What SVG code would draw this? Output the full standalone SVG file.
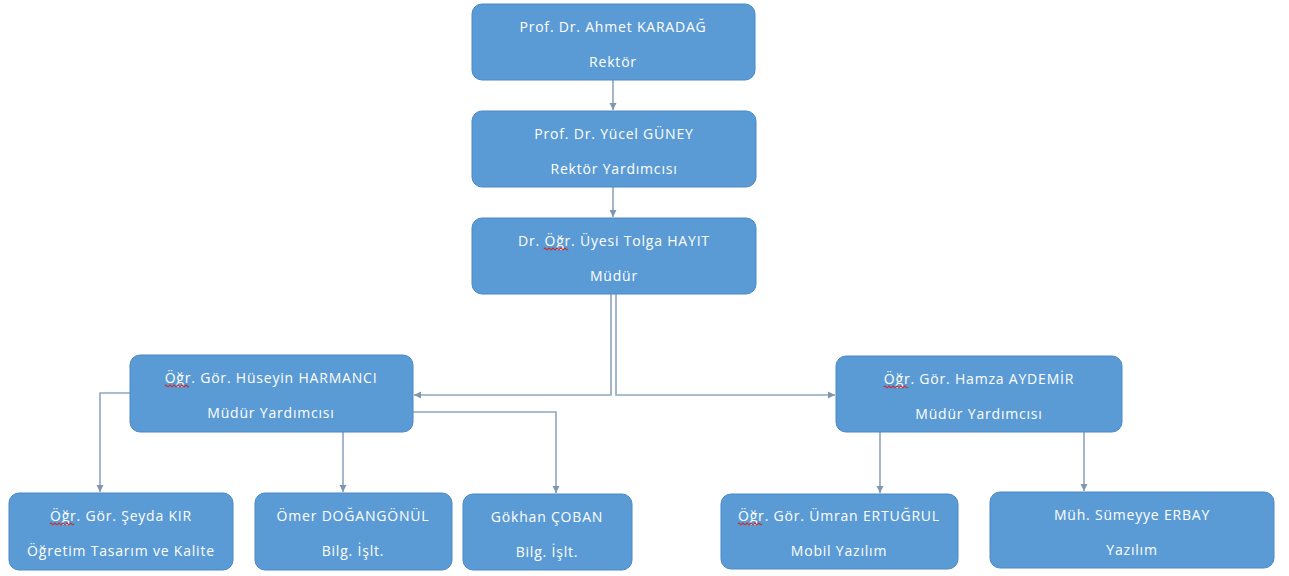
<svg xmlns="http://www.w3.org/2000/svg" width="1289" height="576" viewBox="0 0 1289 576">
<defs>
<style>
.box{fill:#5b9bd5;stroke:#4a88c6;stroke-width:1}
.t{font-family:"Open Sans","Liberation Sans",sans-serif;font-size:14px;fill:#ffffff;text-anchor:middle;letter-spacing:0.8px}
.sq{fill:none;stroke:#c8302f;stroke-width:1.2}
.c{fill:none;stroke:#8ea6bd;stroke-width:1.6}
</style>
<marker id="ah" markerWidth="8" markerHeight="8" refX="7" refY="4" orient="auto" markerUnits="userSpaceOnUse">
<path d="M0,0.5 L7,4 L0,7.5 Z" fill="#7f97ae"/>
</marker>
</defs>
<rect width="1289" height="576" fill="#ffffff"/>
<g id="connectors">
<path class="c" d="M613,80 V110" marker-end="url(#ah)"/>
<path class="c" d="M613,187 V217" marker-end="url(#ah)"/>
<path class="c" d="M611,294 V395 H414" marker-end="url(#ah)"/>
<path class="c" d="M616,294 V395 H835" marker-end="url(#ah)"/>
<path class="c" d="M130,393 H100 V492" marker-end="url(#ah)"/>
<path class="c" d="M343,432 V492" marker-end="url(#ah)"/>
<path class="c" d="M413,412 H556 V493" marker-end="url(#ah)"/>
<path class="c" d="M880,432 V493" marker-end="url(#ah)"/>
<path class="c" d="M1084,432 V491" marker-end="url(#ah)"/>
</g>
<g id="rektor">
<rect class="box" x="472" y="4" width="283" height="76" rx="10"/>
<text class="t" x="613" y="32">Prof. Dr. Ahmet KARADAĞ</text>
<text class="t" x="613" y="67">Rektör</text>
</g>
<g id="rektor-yardimcisi">
<rect class="box" x="472" y="111" width="284" height="76" rx="10"/>
<text class="t" x="614" y="139">Prof. Dr. Yücel GÜNEY</text>
<text class="t" x="614" y="174">Rektör Yardımcısı</text>
</g>
<g id="mudur">
<rect class="box" x="472" y="218" width="284" height="76" rx="10"/>
<text class="t" x="614" y="246">Dr. Öğr. Üyesi Tolga HAYIT</text>
<text class="t" x="614" y="281">Müdür</text>
<path class="sq" d="M544,249 q1,-1.6 2,0 t2,0 t2,0 t2,0 t2,0 t2,0 t2,0 t2,0 t2,0 t2,0 t2,0 t2,0"/>
</g>
<g id="huseyin">
<rect class="box" x="130" y="355" width="283" height="77" rx="10"/>
<text class="t" x="271" y="383">Öğr. Gör. Hüseyin HARMANCI</text>
<text class="t" x="271" y="418">Müdür Yardımcısı</text>
<path class="sq" d="M165,386 q1,-1.6 2,0 t2,0 t2,0 t2,0 t2,0 t2,0 t2,0 t2,0 t2,0 t2,0 t2,0 t2,0"/>
</g>
<g id="hamza">
<rect class="box" x="836" y="356" width="286" height="76" rx="10"/>
<text class="t" x="979" y="384">Öğr. Gör. Hamza AYDEMİR</text>
<text class="t" x="979" y="419">Müdür Yardımcısı</text>
<path class="sq" d="M884,387 q1,-1.6 2,0 t2,0 t2,0 t2,0 t2,0 t2,0 t2,0 t2,0 t2,0 t2,0 t2,0 t2,0"/>
</g>
<g id="seyda">
<rect class="box" x="9" y="493" width="224" height="77" rx="10"/>
<text class="t" x="121" y="521">Öğr. Gör. Şeyda KIR</text>
<text class="t" x="121" y="556">Öğretim Tasarım ve Kalite</text>
<path class="sq" d="M50,524 q1,-1.6 2,0 t2,0 t2,0 t2,0 t2,0 t2,0 t2,0 t2,0 t2,0 t2,0 t2,0 t2,0"/>
</g>
<g id="omer">
<rect class="box" x="255" y="493" width="197" height="77" rx="10"/>
<text class="t" x="353" y="521">Ömer DOĞANGÖNÜL</text>
<text class="t" x="353" y="556">Bilg. İşlt.</text>
</g>
<g id="gokhan">
<rect class="box" x="463" y="494" width="169" height="76" rx="10"/>
<text class="t" x="547" y="522">Gökhan ÇOBAN</text>
<text class="t" x="547" y="557">Bilg. İşlt.</text>
</g>
<g id="umran">
<rect class="box" x="721" y="494" width="237" height="75" rx="10"/>
<text class="t" x="839" y="521">Öğr. Gör. Ümran ERTUĞRUL</text>
<text class="t" x="839" y="556">Mobil Yazılım</text>
<path class="sq" d="M738,524 q1,-1.6 2,0 t2,0 t2,0 t2,0 t2,0 t2,0 t2,0 t2,0 t2,0 t2,0 t2,0 t2,0"/>
</g>
<g id="sumeyye">
<rect class="box" x="990" y="492" width="284" height="76" rx="10"/>
<text class="t" x="1132" y="520">Müh. Sümeyye ERBAY</text>
<text class="t" x="1132" y="555">Yazılım</text>
</g>
</svg>
